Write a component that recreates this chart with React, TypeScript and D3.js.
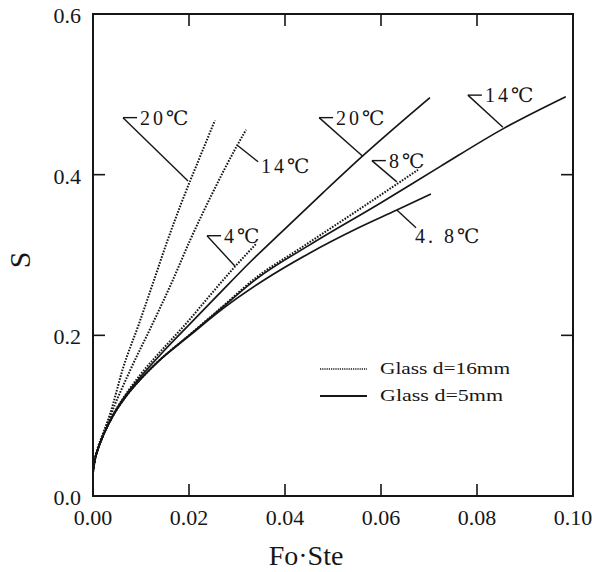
import React from "react";
import * as d3 from "d3";

const xTicks = [0, 0.02, 0.04, 0.06, 0.08, 0.1];
const yTicks = [0, 0.2, 0.4, 0.6];
const xTickLabels = ["0.00", "0.02", "0.04", "0.06", "0.08", "0.10"];
const yTickLabels = ["0.0", "0.2", "0.4", "0.6"];

// Glass d=16mm (dotted)
const dotted20: [number, number][] = [[0,0.03],[0.0004,0.046],[0.001,0.06],[0.0021,0.078],[0.0035,0.101],[0.0063,0.16],[0.0095,0.213],[0.0125,0.265],[0.0154,0.316],[0.0185,0.366],[0.022,0.418],[0.0254,0.4675]];
const dotted14: [number, number][] = [[0,0.03],[0.0004,0.045],[0.001,0.059],[0.0021,0.076],[0.0035,0.098],[0.0077,0.156],[0.0123,0.213],[0.0165,0.267],[0.0202,0.318],[0.0248,0.376],[0.03,0.436],[0.0319,0.456]];
const dotted4: [number, number][] = [[0,0.03],[0.0004,0.045],[0.001,0.058],[0.0021,0.075],[0.004,0.099],[0.007,0.128],[0.01,0.152],[0.015,0.186],[0.0196,0.216],[0.0237,0.245],[0.0292,0.283],[0.034,0.314]];
const dotted8: [number, number][] = [[0,0.03],[0.0004,0.045],[0.001,0.058],[0.0021,0.075],[0.004,0.098],[0.007,0.125],[0.01,0.146],[0.0135,0.167],[0.02,0.2],[0.027,0.236],[0.034,0.272],[0.0431,0.308],[0.055,0.355],[0.0677,0.406]];

// Glass d=5mm (solid)
const solid20: [number, number][] = [[0,0.03],[0.0004,0.045],[0.001,0.058],[0.0021,0.075],[0.004,0.099],[0.007,0.127],[0.01,0.149],[0.015,0.182],[0.02,0.213],[0.026,0.25],[0.0327,0.291],[0.039,0.327],[0.048,0.378],[0.0563,0.424],[0.0702,0.496]];
const solid14: [number, number][] = [[0,0.03],[0.0004,0.045],[0.001,0.058],[0.0021,0.075],[0.004,0.098],[0.007,0.125],[0.01,0.146],[0.0135,0.167],[0.02,0.2],[0.027,0.235],[0.034,0.27],[0.045,0.312],[0.06,0.365],[0.0723,0.41],[0.0854,0.457],[0.0985,0.497]];
const solid48: [number, number][] = [[0,0.03],[0.0004,0.045],[0.001,0.058],[0.0021,0.075],[0.004,0.098],[0.007,0.125],[0.01,0.146],[0.0135,0.167],[0.02,0.199],[0.027,0.233],[0.0354,0.268],[0.045,0.302],[0.055,0.333],[0.0633,0.356],[0.0704,0.376]];

const dottedSeries = [dotted20, dotted14, dotted4, dotted8];
const solidSeries = [solid20, solid14, solid48];

const labelTexts = ["20℃", "14℃", "4℃", "20℃", "8℃", "14℃", "4. 8℃"];
const labelTips: [number, number][] = [[0.0198,0.392],[0.0302,0.436],[0.0296,0.286],[0.05625,0.4225],[0.0633,0.391],[0.0854,0.459],[0.0633,0.356]];
const labelElbows: [number, number][] = [[0.00625,0.471],[0.0344,0.416],[0.02375,0.324],[0.0471,0.471],[0.0581,0.4175],[0.0781,0.499],[0.0673,0.334]];
const labelDash = [true, false, true, true, true, true, false];

const legendLabels = ["Glass  d=16mm", "Glass  d=5mm"];

const W = 592, H = 572;
const M = { left: 93, right: 573, top: 14, bottom: 496 };
const INK = "#161616";
const SERIF = "Liberation Serif, Tinos, Times New Roman, Times, DejaVu Serif, serif";

export default function App() {
  const x = d3.scaleLinear().domain([0, 0.1]).range([M.left, M.right]);
  const y = d3.scaleLinear().domain([0, 0.6]).range([M.bottom, M.top]);
  const line = d3.line<[number, number]>().x(d => x(d[0])).y(d => y(d[1])).curve(d3.curveMonotoneX);
  const tl = 12;
  const innerX = xTicks.slice(1, -1);
  const innerY = yTicks.slice(1, -1);
  const serif = { fontFamily: SERIF };

  return (
    <svg width={W} height={H} style={{ position: "absolute", left: 0, top: 0, background: "#fff" }}>
      <rect x={0} y={0} width={W} height={H} fill="#fff" />
      <rect x={M.left} y={M.top} width={M.right - M.left} height={M.bottom - M.top} fill="none" stroke={INK} strokeWidth={2} />
      {innerX.map((t, i) => (
        <g key={"xt" + i}>
          <line x1={x(t)} x2={x(t)} y1={M.bottom} y2={M.bottom - tl} stroke={INK} strokeWidth={1.6} />
          <line x1={x(t)} x2={x(t)} y1={M.top} y2={M.top + tl} stroke={INK} strokeWidth={1.6} />
        </g>
      ))}
      {innerY.map((t, i) => (
        <g key={"yt" + i}>
          <line x1={M.left} x2={M.left + tl} y1={y(t)} y2={y(t)} stroke={INK} strokeWidth={1.6} />
          <line x1={M.right} x2={M.right - tl} y1={y(t)} y2={y(t)} stroke={INK} strokeWidth={1.6} />
        </g>
      ))}
      {xTicks.map((t, i) => (
        <text key={"xl" + i} x={x(t)} y={525} textAnchor="middle" style={serif} fontSize={22} fill={INK}>
          {xTickLabels[i]}
        </text>
      ))}
      {yTicks.map((t, i) => (
        <text key={"yl" + i} x={81} y={y(t) + 9} textAnchor="end" style={serif} fontSize={22} fill={INK}>
          {yTickLabels[i]}
        </text>
      ))}
      <text x={306} y={565} textAnchor="middle" style={serif} fontSize={28} fill={INK}>Fo·Ste</text>
      <text transform="translate(30,260) rotate(-90)" textAnchor="middle" style={serif} fontSize={30} fill={INK}>S</text>

      {solidSeries.map((s, i) => (
        <path key={"s" + i} d={line(s) || ""} fill="none" stroke={INK} strokeWidth={1.7} />
      ))}
      {dottedSeries.map((s, i) => (
        <path key={"d" + i} d={line(s) || ""} fill="none" stroke={INK} strokeWidth={2} strokeDasharray="1.6 1.4" />
      ))}

      {labelTexts.map((t, i) => {
        const tx = x(labelTips[i][0]), ty = y(labelTips[i][1]);
        const ex = x(labelElbows[i][0]), ey = y(labelElbows[i][1]);
        const dash = labelDash[i];
        const textX = dash ? ex + 17 : ex + (i === 6 ? -1 : 3);
        const textY = dash ? ey + 7 : ey + (i === 6 ? 15 : 11);
        return (
          <g key={"lab" + i}>
            <line x1={tx} y1={ty} x2={ex} y2={ey} stroke={INK} strokeWidth={1.4} />
            {dash && <line x1={ex} y1={ey} x2={ex + 14} y2={ey} stroke={INK} strokeWidth={1.4} />}
            <text x={textX} y={textY} style={serif} fontSize={20} letterSpacing={3} fill={INK}>{t}</text>
          </g>
        );
      })}

      <line x1={320} x2={367} y1={369} y2={369} stroke={INK} strokeWidth={1.6} strokeDasharray="1.2 1" />
      <text x={380} y={374} style={serif} fontSize={16} fill={INK} textLength={130} lengthAdjust="spacingAndGlyphs">{legendLabels[0]}</text>
      <line x1={320} x2={367} y1={396} y2={396} stroke={INK} strokeWidth={2} />
      <text x={380} y={401} style={serif} fontSize={16} fill={INK} textLength={123} lengthAdjust="spacingAndGlyphs">{legendLabels[1]}</text>
    </svg>
  );
}
